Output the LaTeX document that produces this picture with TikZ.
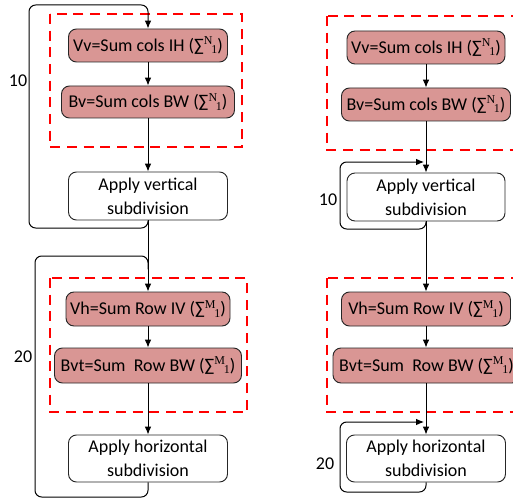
\documentclass[tikz,border=0pt]{standalone}
\usepackage{fontspec}
\setmainfont{Carlito}
\newfontfamily\supserif{Liberation Serif}
\usetikzlibrary{arrows.meta}
\definecolor{boxfill}{HTML}{D99694}
\newcommand{\sg}[1]{(∑{\supserif\fontsize{9}{9}\selectfont\raisebox{0.55em}{#1}\kern-0.1em\raisebox{-0.2em}{1}})}
\begin{document}
\begin{tikzpicture}[x=0.75pt,y=-0.75pt,
 txt/.style={font=\fontsize{13.5}{18}\selectfont},
 proc/.style={txt, draw=black!85, fill=boxfill, rounded corners=6pt, line width=0.7pt, inner sep=0pt, align=center},
 plainbox/.style={txt, draw=black!85, fill=white, rounded corners=6pt, line width=0.7pt, inner sep=0pt, align=center},
 grp/.style={draw=red, line width=2pt, dash pattern=on 7.5pt off 5pt},
 flow/.style={-{Latex[length=6pt,width=5pt]}, line width=0.75pt},
 loopline/.style={rounded corners=5pt, line width=0.75pt}]
\useasboundingbox (0,0) rectangle (513,499);
\clip (0,0) rectangle (513,499);
\fill[white] (0,0) rectangle (513,499);

% ---------- left column ----------
\draw[grp] (50,14) rectangle (242,147);
\draw[grp] (50,278) rectangle (247,412);

\node[proc, minimum width=119.25pt, minimum height=24.75pt] (Lvv) at (148,45.5) {Vv=Sum cols IH \sg{N}};
\node[proc, minimum width=129.75pt, minimum height=24pt] (Lbv) at (148,102) {Bv=Sum cols BW \sg{N}};
\node[plainbox, minimum width=119.25pt, minimum height=36pt] (Lav) at (148,196) {Apply vertical\\subdivision};
\node[proc, minimum width=123pt, minimum height=25.5pt] (Lvh) at (148,309) {Vh=Sum Row IV \sg{M}};
\node[proc, minimum width=140.25pt, minimum height=26.25pt] (Lbvt) at (148,365.5) {Bvt=Sum\ \ Row BW \sg{M}};
\node[plainbox, minimum width=119.25pt, minimum height=35.25pt] (Lah) at (148,458.5) {Apply horizontal\\subdivision};

\coordinate (La1) at (29,228);
\coordinate (La2) at (29,5);
\coordinate (Lb1) at (35,497);
\coordinate (Lb2) at (35,256);

\draw[flow] (Lvv.south) -- (Lbv.north);
\draw[flow] (Lbv.south) -- (Lav.north);
\draw[flow] (Lav.south) -- (Lvh.north);
\draw[flow] (Lvh.south) -- (Lbvt.north);
\draw[flow] (Lbvt.south) -- (Lah.north);
\draw[loopline, flow] (Lav.south) |- (La1) -- (La2) -| (Lvv.north);
\draw[loopline] (Lah.south) |- (Lb1) -- (Lb2) -| ([yshift=-10pt]Lb2 -| Lav.south);

\node[txt] (L10) at (18,81) {10};
\node[txt] (L20) at (23,357) {20};

% ---------- right column ----------
\draw[grp] (327,16) rectangle (540,150);
\draw[grp] (327,278) rectangle (540,412);

\node[proc, minimum width=118.5pt, minimum height=24.75pt] (Rvv) at (426,47.5) {Vv=Sum cols IH \sg{N}};
\node[proc, minimum width=126.75pt, minimum height=24.75pt] (Rbv) at (426,104.5) {Bv=Sum cols BW \sg{N}};
\node[plainbox, minimum width=118.5pt, minimum height=36pt] (Rav) at (426,197) {Apply vertical\\subdivision};
\node[proc, minimum width=126.75pt, minimum height=25.5pt] (Rvh) at (426,309) {Vh=Sum Row IV \sg{M}};
\node[proc, minimum width=140.25pt, minimum height=26.25pt] (Rbvt) at (426.5,365.5) {Bvt=Sum\ \ Row BW \sg{M}};
\node[plainbox, minimum width=119.25pt, minimum height=35.25pt] (Rah) at (426,458.5) {Apply horizontal\\subdivision};

\coordinate (Ra1) at (340,229);
\coordinate (Ra2) at (424,162);
\coordinate (Rb1) at (340,492);
\coordinate (Rb2) at (424,422);

\draw[flow] (Rvv.south) -- (Rbv.north);
\draw[flow] (Rbv.south) -- (Rav.north);
\draw[flow] (Rav.south) -- (Rvh.north);
\draw[flow] (Rvh.south) -- (Rbvt.north -| Rvh.south);
\draw[flow] (Rbvt.south -| Rah.north) -- (Rah.north);
\draw[loopline, flow] (Rav.south) |- (Ra1) |- (Ra2);
\draw[loopline, flow] (Rah.south) |- (Rb1) |- (Rb2);

\node[txt] (R10) at (328,200) {10};
\node[txt] (R20) at (325,464) {20};
\end{tikzpicture}
\end{document}
